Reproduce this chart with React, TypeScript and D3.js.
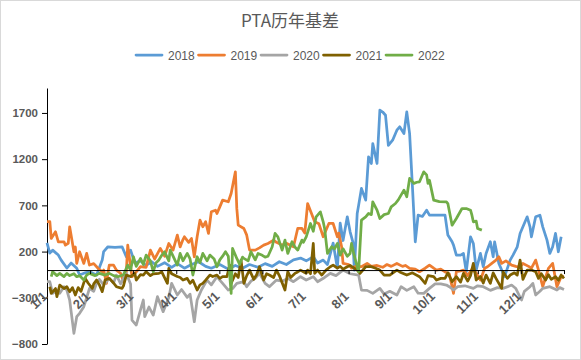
import { useRef, useEffect } from 'react';
import * as d3 from 'd3';

// [day of year, basis]
const s2018: [number, number][] = [
    [0, 295], [2, 184], [4, 216], [8, 162], [10, 108], [14, 22], [17, 76], [21, 20], [23, -54], [27, -30], [30, -18], [35, -54],
    [39, 108], [40, 200], [43, 252], [48, 245], [53, 252], [56, 144], [59, 216], [62, 76], [66, 100], [70, 50], [74, 90], [78, 40],
    [83, 80], [88, 30], [92, 70], [97, 20], [102, 60], [107, 90], [112, 40], [116, 20], [122, 60], [128, 10], [133, 50], [138, 20],
    [143, 60], [149, 30], [154, 70], [159, 40], [164, 90], [169, 60], [174, 110], [179, 130], [183, 100], [188, 144], [191, 76],
    [195, 108], [198, 60], [202, 292], [205, 20], [207, 508], [209, 320], [212, 576], [214, 414], [216, 300], [217, 0], [219, 612],
    [220, 700], [222, 883], [225, 757], [227, 1225], [229, 1153], [230, 1369], [233, 1153], [235, 1730], [237, 1710], [239, 1675],
    [241, 1350], [244, 1405], [247, 1513], [249, 1550], [252, 1477], [254, 1712], [256, 1477], [258, 900], [260, 306], [262, 594],
    [265, 580], [268, 648], [270, 594], [274, 594], [277, 594], [281, 594], [283, 380], [286, 306], [287, 270], [289, 162], [292, 162],
    [294, 180], [296, -18], [299, 360], [301, 288], [303, 0], [306, 180], [308, 36], [310, 180], [313, 306], [315, 144], [316, 306],
    [319, 72], [321, 0], [323, -72], [327, 108], [329, 162], [332, 252], [334, 396], [336, 468], [339, 576], [341, 468], [342, 360],
    [345, 576], [348, 594], [350, 468], [353, 324], [355, 180], [357, 252], [359, 396], [361, 198], [363, 360],
];

const s2019: [number, number][] = [
    [0, 523], [2, 523], [3, 342], [6, 414], [8, 306], [12, 306], [13, 270], [15, 290], [16, 468], [19, 198], [20, 250], [21, 72],
    [23, 198], [26, 72], [28, 180], [30, 54], [33, 70], [36, 20], [39, -18], [40, 0], [42, -144], [43, -30], [44, 54], [47, 54],
    [49, 0], [52, -36], [54, -126], [56, -20], [57, 270], [60, -72], [63, -20], [66, 36], [70, 30], [73, 216], [76, 120], [80, 234],
    [83, 150], [86, 288], [89, 216], [92, 378], [94, 250], [96, 330], [97, 360], [100, 300], [102, 342], [104, 144], [106, 360],
    [108, 540], [110, 468], [112, 523], [114, 396], [116, 630], [119, 648], [120, 612], [122, 684], [124, 757], [128, 739],
    [130, 829], [133, 1063], [134, 667], [135, 486], [139, 450], [141, 378], [143, 216], [147, 216], [150, 240], [153, 270],
    [156, 288], [160, 324], [162, 300], [166, 270], [169, 290], [174, 252], [177, 450], [180, 450], [182, 400], [184, 720],
    [187, 600], [189, 522], [192, 500], [195, 360], [199, 504], [202, 504], [205, 360], [206, 400], [208, 252], [209, 72],
    [213, 60], [215, 20], [218, 40], [222, 36], [226, 72], [229, 40], [233, 50], [237, 30], [240, 60], [243, 40], [247, 72],
    [251, 40], [253, 50], [256, 18], [260, 10], [263, -18], [267, 20], [270, 54], [273, 20], [275, 0], [278, 10], [281, -20],
    [284, -40], [287, -252], [289, -18], [292, -10], [294, 0], [297, -60], [300, 10], [303, -30], [306, -108], [309, 20],
    [311, 36], [314, 72], [317, 108], [319, 144], [321, 72], [324, 100], [328, 54], [331, 40], [334, 30], [336, 72], [340, 40],
    [342, 20], [345, 108], [347, 0], [350, -180], [354, 18], [357, 72], [360, -180], [363, -72], [365, -72],
];

const s2020: [number, number][] = [
    [0, -126], [2, -126], [4, -252], [7, -220], [9, -252], [12, -180], [14, -216], [16, -324], [19, -685], [21, -505], [23, -468],
    [26, -396], [28, -300], [30, -198], [33, -230], [35, -144], [37, -100], [40, -160], [42, -126], [44, -90], [47, -140],
    [49, -54], [52, -150], [54, -90], [56, -36], [59, -150], [60, -541], [63, -595], [66, -432], [68, -324], [69, -505],
    [72, -400], [75, -487], [78, -288], [82, -450], [86, -296], [88, -144], [92, -270], [95, -210], [99, -296], [101, -260],
    [104, -559], [106, -324], [109, -216], [113, -108], [116, -160], [120, -72], [122, -108], [124, -144], [128, -216],
    [131, -200], [134, -144], [139, -126], [141, -180], [144, -120], [147, -90], [150, -36], [154, -144], [157, -180],
    [162, -108], [166, -120], [170, -90], [174, -126], [179, -72], [183, -108], [188, -72], [191, -126], [196, -80], [200, -36],
    [204, -60], [209, 0], [214, -40], [220, -54], [222, -216], [226, -220], [230, -252], [235, -198], [238, -260], [242, -230],
    [247, -270], [250, -180], [254, -220], [259, -180], [262, -250], [266, -252], [270, -198], [274, -150], [278, -150],
    [282, -162], [284, -180], [287, -216], [290, -180], [295, -170], [301, -198], [304, -170], [308, -180], [313, -220],
    [318, -190], [322, -198], [328, -162], [331, -200], [335, -324], [337, -230], [341, -180], [343, -144], [345, -270],
    [348, -230], [350, -198], [355, -180], [360, -216], [362, -190], [365, -210],
];

const s2021: [number, number][] = [
    [2, -180], [3, -252], [6, -200], [7, -288], [9, -162], [12, -200], [14, -180], [16, -234], [18, -190], [20, -270], [22, -190],
    [24, -230], [27, -90], [29, -140], [32, -198], [33, -150], [35, -108], [37, -160], [39, -234], [41, -108], [44, -90],
    [47, -140], [49, -180], [53, -198], [54, -170], [56, -54], [59, -70], [62, -36], [63, -108], [66, -50], [68, -54], [70, -18],
    [73, -60], [75, -40], [79, -36], [81, -20], [85, -144], [86, 18], [88, -40], [92, -70], [94, -80], [96, -108], [99, -90],
    [101, -144], [103, -110], [106, -216], [108, -160], [110, -144], [112, -110], [115, -54], [117, -70], [120, -54], [122, -90],
    [124, -70], [127, -72], [129, 54], [130, -144], [133, -40], [135, -80], [137, 108], [139, -144], [141, -60], [143, 0],
    [146, -100], [148, -50], [150, 36], [153, -108], [155, -40], [157, -54], [160, -80], [162, 0], [164, -60], [168, -216],
    [170, -18], [172, -80], [175, -36], [177, -20], [179, 0], [181, -18], [183, -36], [184, 0], [186, -40], [188, 288], [189, -36],
    [191, 0], [194, -54], [197, 0], [200, 36], [202, 54], [205, 20], [207, 40], [209, 10], [212, 36], [214, 50], [216, 30],
    [219, 0], [221, -36], [225, 36], [229, 36], [232, 20], [235, 0], [238, -54], [242, -54], [247, 0], [249, -20], [254, -54],
    [258, -30], [263, -72], [267, -144], [269, -60], [273, -72], [275, -108], [278, -90], [281, -90], [283, -30], [286, -126],
    [289, -72], [292, -130], [294, -36], [297, -120], [299, -60], [301, 72], [303, -108], [306, -70], [308, -140], [310, -54],
    [313, -144], [315, -30], [317, -90], [321, -198], [322, -18], [325, -90], [327, -54], [330, -30], [332, -54], [334, 108],
    [336, -100], [339, 0], [342, 0], [345, -18], [347, -90], [349, -40], [352, -108], [354, -50], [356, -100], [359, -72],
    [361, -110], [363, -54], [365, -90],
];

const s2022: [number, number][] = [
    [3, -72], [4, -18], [7, -60], [9, -36], [12, -70], [14, -36], [16, -60], [19, -40], [21, -72], [23, -60], [26, -108],
    [28, -54], [30, -36], [34, -60], [37, -36], [41, -54], [44, -36], [47, -60], [50, -72], [54, -50], [57, 54], [59, 0],
    [61, 144], [63, 40], [66, 126], [68, 60], [70, 162], [73, 100], [75, -18], [77, 80], [79, 110], [81, 160], [83, 198],
    [86, 100], [87, 216], [89, 150], [92, 54], [94, 180], [96, 100], [99, 180], [101, 120], [103, -54], [106, 144], [108, 80],
    [110, 180], [113, 100], [115, 162], [118, 120], [120, 36], [122, 110], [124, 150], [126, 198], [128, 150], [130, -252],
    [131, 234], [134, 126], [136, 60], [138, 140], [139, 126], [142, 100], [144, 198], [147, 110], [149, 180], [152, 160],
    [154, 140], [156, 150], [159, 252], [161, 396], [163, 360], [166, 216], [168, 324], [170, 180], [173, 306], [175, 250],
    [177, 216], [180, 324], [181, 300], [183, 360], [186, 504], [188, 420], [190, 576], [193, 630], [195, 522], [196, 450],
    [198, 180], [201, 252], [203, 230], [205, 288], [207, 162], [209, 230], [212, 150], [214, 180], [215, 288], [217, 150],
    [220, -18], [222, 540], [225, 576], [227, 612], [229, 600], [230, 739], [233, 648], [235, 558], [238, 600], [241, 612],
    [243, 684], [246, 720], [248, 760], [252, 865], [254, 793], [256, 991], [259, 937], [261, 950], [263, 955], [266, 1063],
    [268, 1030], [269, 937], [270, 973], [273, 757], [277, 740], [282, 739], [283, 720], [286, 486], [289, 558], [293, 666],
    [296, 666], [299, 648], [300, 594], [301, 522], [303, 530], [304, 450], [307, 432],
];

const years = ['2018', '2019', '2020', '2021', '2022'];
const seriesData = [s2018, s2019, s2020, s2021, s2022];
const colors = ['#5B9BD5', '#ED7D31', '#A5A5A5', '#7F6000', '#70AD47'];
const yTicks = [-800, -300, 200, 700, 1200, 1700];
const monthLabels = ['1/1', '2/1', '3/1', '4/1', '5/1', '6/1', '7/1', '8/1', '9/1', '10/1', '11/1', '12/1'];

export default function App() {
    const svgRef = useRef<SVGSVGElement>(null);

    useEffect(() => {
        if (!svgRef.current) return;
        const width = 581;
        const height = 360;
        const svg = d3.select(svgRef.current);
        svg.selectAll('*').remove();
        svg.attr('width', width).attr('height', height);

        const x = d3.scaleLinear().domain([0, 365]).range([47, 564]);
        const y = d3.scaleLinear().domain([-800, 1970]).range([344, 88]);
        const textColor = '#595959';
        const font = '"Liberation Sans", Arial, sans-serif';

        svg.append('rect')
            .attr('x', 0.5).attr('y', 0.5)
            .attr('width', width - 1).attr('height', height - 1)
            .attr('fill', 'white')
            .attr('stroke', '#d9d9d9');

        // Title
        svg.append('text')
            .attr('x', 290)
            .attr('y', 27)
            .attr('text-anchor', 'middle')
            .attr('font-family', '"Noto Sans CJK SC", sans-serif')
            .attr('font-size', '17px')
            .attr('fill', textColor)
            .text('PTA历年基差');

        // Legend
        const legend = svg.append('g').attr('transform', 'translate(135,55)');
        years.forEach((yr, i) => {
            const gi = legend.append('g').attr('transform', `translate(${i * 62.5},0)`);
            gi.append('line')
                .attr('x1', 1).attr('x2', 27).attr('y1', 0).attr('y2', 0)
                .attr('stroke', colors[i]).attr('stroke-width', 2.75).attr('stroke-linecap', 'round');
            gi.append('text')
                .attr('x', 33).attr('y', 4.5)
                .attr('font-family', font).attr('font-size', '12px')
                .attr('fill', textColor)
                .text(yr);
        });

        // Y axis
        const yAxis = svg.append('g').attr('transform', `translate(${x(0)},0)`)
            .call(d3.axisLeft(y).tickValues(yTicks).tickSize(5).tickSizeOuter(0).tickFormat(d3.format('d')));
        yAxis.select('.domain').attr('stroke', '#000');
        yAxis.selectAll('.tick line').attr('stroke', '#000');
        yAxis.selectAll('.tick text')
            .attr('fill', textColor).attr('font-size', '11.5px').attr('font-weight', 'bold')
            .attr('font-family', font).attr('x', -9);

        // Series
        const line = d3.line<[number, number]>()
            .x(d => x(d[0]))
            .y(d => y(d[1]));
        seriesData.forEach((s, i) => {
            svg.append('path')
                .datum(s)
                .attr('fill', 'none')
                .attr('stroke', colors[i])
                .attr('stroke-width', 2.75)
                .attr('stroke-linejoin', 'round')
                .attr('d', line);
        });

        // X axis at zero
        const monthTicks = d3.range(13).map(i => (i * 365) / 12);
        const xAxis = svg.append('g').attr('transform', `translate(0,${y(0)})`)
            .call(d3.axisBottom(x).tickValues(monthTicks).tickSize(4).tickSizeOuter(0).tickFormat(() => ''));
        xAxis.select('.domain').attr('stroke', '#000');
        xAxis.selectAll('.tick line').attr('stroke', '#000');

        svg.append('g').selectAll('text')
            .data(monthLabels)
            .enter()
            .append('text')
            .attr('transform', (_, i) => `translate(${x(monthTicks[i]) + 1},${y(0) + 27}) rotate(-45)`)
            .attr('text-anchor', 'end')
            .attr('font-family', font)
            .attr('font-size', '13px')
            .attr('font-weight', 'bold')
            .attr('fill', textColor)
            .text(d => d);
    }, []);

    return (
        <div style={{ position: 'absolute', left: 0, top: 0 }}>
            <svg ref={svgRef} style={{ display: 'block' }} />
        </div>
    );
}
